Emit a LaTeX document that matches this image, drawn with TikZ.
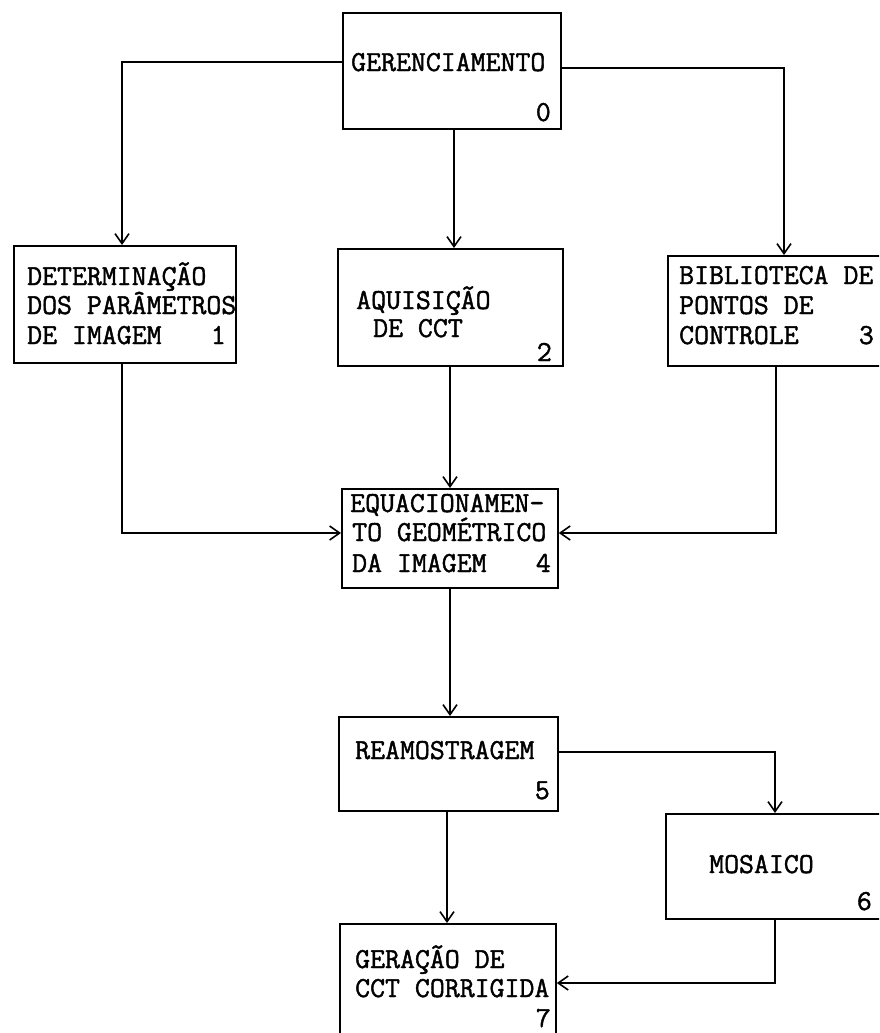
\documentclass[tikz,border=0pt]{standalone}
\usepackage{fontspec}
\newfontfamily\tw{Latin Modern Mono}[RawFeature={embolden=1.5}]
\usetikzlibrary{arrows.meta}
\begin{document}
\begin{tikzpicture}[x=1pt,y=-1pt,
  box/.style={draw,line width=1.8pt,inner sep=0pt,anchor=north west},
  txt/.style={inner sep=0pt,anchor=base west,font=\fontsize{29}{30}\selectfont\tw},
  num/.style={inner sep=0pt,anchor=base east,font=\fontsize{29}{30}\selectfont\tw},
  arr/.style={line width=1.6pt,-{Straight Barb[length=10pt,width=14pt,line width=1.6pt]}},
  ln/.style={line width=1.6pt}]
\path[use as bounding box] (0,0) rectangle (879,1033);
\clip (0,0) rectangle (879,1033);
% boxes
\node[box,minimum width=218pt,minimum height=116pt] (b0) at (342,12) {};
\node[box,minimum width=222pt,minimum height=117pt] (b1) at (13,245) {};
\node[box,minimum width=225pt,minimum height=117pt] (b2) at (337,248) {};
\node[box,minimum width=240pt,minimum height=110pt] (b3) at (667,255) {};
\node[box,minimum width=216pt,minimum height=99pt] (b4) at (341,488) {};
\node[box,minimum width=219pt,minimum height=94pt] (b5) at (338,716) {};
\node[box,minimum width=240pt,minimum height=105pt] (b6) at (665,813) {};
\node[box,minimum width=216pt,minimum height=130pt] (b7) at (339,923) {};
% texts
\node[txt] (t0) at (351,71) {GERENCIAMENTO};
\node[num] (n0) at (551,121) {0};
\node[txt] (t1a) at (27,285) {DETERMINAÇÃO};
\node[txt] (t1b) at (27,314) {DOS PARÂMETROS};
\node[txt] (t1c) at (27,344) {DE IMAGEM};
\node[num] (n1) at (226,344) {1};
\node[txt] (t2a) at (356,309) {AQUISIÇÃO};
\node[txt] (t2b) at (373,337) {DE CCT};
\node[num] (n2) at (552,361) {2};
\node[txt] (t3a) at (679,284) {BIBLIOTECA DE};
\node[txt] (t3b) at (679,314) {PONTOS DE};
\node[txt] (t3c) at (679,344) {CONTROLE};
\node[num] (n3) at (874,344) {3};
\node[txt] (t4a) at (350,512) {EQUACIONAMEN-};
\node[txt] (t4b) at (352,541) {TO GEOMÉTRICO};
\node[txt] (t4c) at (352,572) {DA IMAGEM};
\node[num] (n4) at (551,572) {4};
\node[txt] (t5) at (355,759) {REAMOSTRAGEM};
\node[num] (n5) at (550,799) {5};
\node[txt] (t6) at (709,873) {MOSAICO};
\node[num] (n6) at (872,910) {6};
\node[txt] (t7a) at (355,968) {GERAÇÃO DE};
\node[txt] (t7b) at (355,997) {CCT CORRIGIDA};
\node[num] (n7) at (551,1027) {7};
% connectors
\draw[arr] (b0.west |- 0,62) -| (b1.north -| 122,0);
\draw[arr] (b0.east |- 0,68) -| (b3.north -| 784,0);
\draw[arr] (b0.south -| 454,0) -- (b2.north -| 454,0);
\draw[arr] (b1.south -| 122,0) |- (b4.west |- 0,533);
\draw[arr] (b2.south -| 450,0) -- (b4.north -| 450,0);
\draw[arr] (b3.south -| 776,0) |- (b4.east |- 0,533);
\draw[arr] (b4.south -| 450,0) -- (b5.north -| 450,0);
\draw[arr] (b5.east |- 0,752) -| (b6.north -| 775,0);
\draw[arr] (b5.south -| 447,0) -- (b7.north -| 447,0);
\draw[arr] (b6.south -| 775,0) |- (b7.east |- 0,983);
\end{tikzpicture}
\end{document}
